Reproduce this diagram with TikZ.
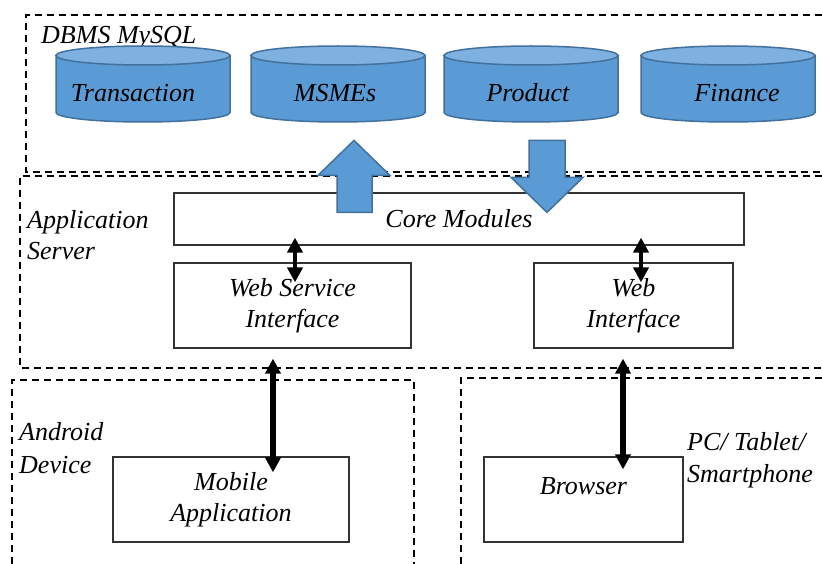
\documentclass[tikz,border=0pt]{standalone}
\usepackage{fontspec}
\setmainfont{Liberation Serif}
\usetikzlibrary{arrows.meta}
\definecolor{dbblue}{HTML}{5B9BD5}
\definecolor{dbtop}{HTML}{7EB0E0}
\definecolor{dbedge}{HTML}{41719C}
\begin{document}
\begin{tikzpicture}[x=1pt,y=1pt,
  font=\fontsize{26}{31}\selectfont\itshape,
  container/.style={draw=black, line width=1.3pt, dash pattern=on 7pt off 5pt},
  box/.style={draw=black!80, line width=1.2pt, fill=white, align=center, inner sep=0pt},
  lbl/.style={inner sep=0pt},
  cylbody/.style={fill=dbblue, draw=dbedge, line width=1.5pt},
  cyltop/.style={fill=dbtop, draw=dbedge, line width=1.5pt},
  blockarrow/.style={fill=dbblue, draw=dbedge, line width=1.5pt, line join=miter},
  dbl/.style={line width=4pt, {Triangle[width=15pt,length=15pt]}-{Triangle[width=15pt,length=15pt]}},
  dblthick/.style={dbl, line width=5.5pt}]
\useasboundingbox (0,0) rectangle (822,-564);
\fill[white] (0,0) rectangle (822,-564);

% dashed containers
\draw[container] (822,-15) -- (26,-15) -- (26,-172) -- (822,-172);
\draw[container] (822,-176) -- (20,-176) -- (20,-368) -- (822,-368);
\draw[container] (12,-564) -- (12,-380) -- (414,-380) -- (414,-564);
\draw[container] (461,-564) -- (461,-378) -- (822,-378);

% container labels
\node[lbl, anchor=base west] (dbms) at (41,-44) {DBMS MySQL};
\node[lbl, anchor=north west, align=left] (appsrv) at (27,-210) {Application\\Server};
\node[lbl, anchor=north west, align=left, font=\fontsize{26}{33}\selectfont\itshape] (android) at (19,-422) {Android\\Device};
\node[lbl, anchor=north west, align=left, font=\fontsize{26}{32}\selectfont\itshape] (pc) at (687,-432) {PC/ Tablet/\\Smartphone};

% databases
\foreach \c/\n/\t/\tx in {143/trans/Transaction/133, 338/msme/MSMEs/335, 531/prod/Product/528, 728/fin/Finance/737} {
  \path[cylbody] (\c-87,-55.5) -- (\c-87,-112.5) arc[start angle=180,end angle=360,x radius=87,y radius=9.5] -- (\c+87,-55.5) -- cycle;
  \path[cyltop] (\c,-55.5) ellipse[x radius=87, y radius=9.5];
  \node[lbl, anchor=base] (\n) at (\tx,-102) {\t};
}

% application server boxes
\node[box, minimum width=570pt, minimum height=52pt] (core) at (459,-219) {Core Modules};
\node[box, minimum width=237pt, minimum height=85pt] (wsi) at (292.5,-305.5) {Web Service\\Interface};
\node[box, minimum width=199pt, minimum height=85pt] (web) at (633.5,-305.5) {Web\\Interface};

% client boxes
\node[box, minimum width=236pt, minimum height=85pt] (mobile) at (231,-499.5) {Mobile\\Application};
\node[box, minimum width=199pt, minimum height=85pt, text height=18pt, text depth=29pt] (browser) at (583.5,-499.5) {Browser};

% block arrows between database and core
\path[blockarrow] ([xshift=-122pt,yshift=-20pt]core.north) -- ++(0,37) -- ++(-19,0) -- ++(36,35) -- ++(36,-35) -- ++(-18,0) -- ++(0,-37) -- cycle;
\path[blockarrow] ([xshift=70pt,yshift=52pt]core.north) -- ++(0,-37) -- ++(-18,0) -- ++(36,-35) -- ++(36,35) -- ++(-18,0) -- ++(0,37) -- cycle;

% double arrows
\draw[dbl] ([xshift=-164pt,yshift=8pt]core.south) -- ([xshift=2.5pt,yshift=-20pt]wsi.north);
\draw[dbl] ([xshift=182pt,yshift=8pt]core.south) -- ([xshift=7.5pt,yshift=-20pt]web.north);
\draw[dblthick] ([xshift=-19.5pt,yshift=-10pt]wsi.south) -- ([xshift=42pt,yshift=-16pt]mobile.north);
\draw[dblthick] ([xshift=-10.5pt,yshift=-10pt]web.south) -- ([xshift=39.5pt,yshift=-13pt]browser.north);
\end{tikzpicture}
\end{document}
